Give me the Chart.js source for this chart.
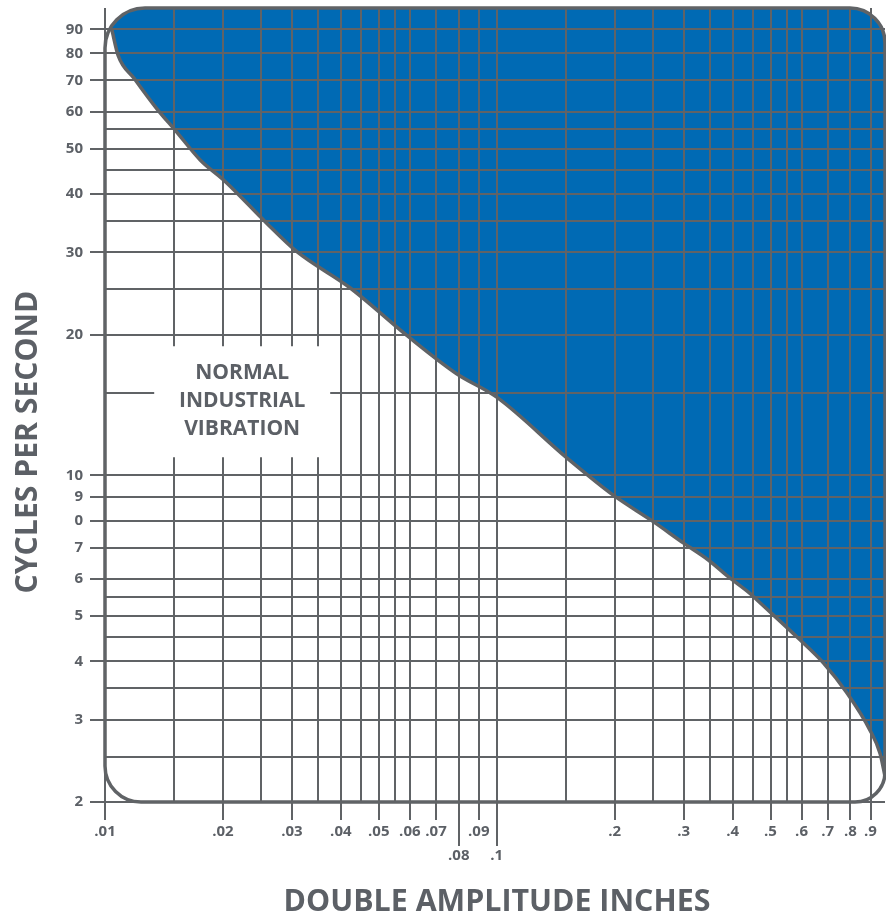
<!DOCTYPE html>
<html>
<head>
<meta charset="utf-8">
<script src="https://cdn.jsdelivr.net/npm/chart.js@4/dist/chart.umd.min.js"></script>
<style>
  html, body { margin: 0; padding: 0; background: #fff; }
  canvas { display: block; }
</style>
</head>
<body>
<canvas id="chart" width="886" height="915"></canvas>
<script>
// grid lines and their labels (blank = line without label)
const xTicks = [0.01, 0.015, 0.02, 0.025, 0.03, 0.035, 0.04, 0.045, 0.05, 0.055, 0.06, 0.07, 0.08, 0.09,
  0.1, 0.15, 0.2, 0.25, 0.3, 0.35, 0.4, 0.45, 0.5, 0.55, 0.6, 0.7, 0.8, 0.9];
const xTickLabels = ['.01', '', '.02', '', '.03', '', '.04', '', '.05', '', '.06', '.07', ['', '.08'], '.09',
  ['', '.1'], '', '.2', '', '.3', '', '.4', '', '.5', '', '.6', '.7', '.8', '.9'];
const yTicks = [2, 2.5, 3, 3.5, 4, 4.5, 5, 5.5, 6, 7, 8, 9, 10, 15, 20, 25, 30, 35, 40, 45, 50, 55, 60, 70, 80, 90];
const yTickLabels = ['2', '', '3', '', '4', '', '5', '', '6', '7', '0', '9', '10', '', '20', '', '30', '', '40', '',
  '50', '', '60', '70', '80', '90'];
const longTicks = [0.08, 0.1];

// limit curve (double amplitude inches vs cycles per second)
const limitAmplitude = [0.0104, 0.0108, 0.0119, 0.0136, 0.0151, 0.0175, 0.0203, 0.0259, 0.0309, 0.0422, 0.0595,
  0.079, 0.1, 0.151, 0.198, 0.251, 0.30, 0.347, 0.39, 0.443, 0.462, 0.589, 0.682, 0.784, 0.897, 0.952, 0.98];
const limitCycles = [90.2, 79.2, 70.5, 60.7, 54.8, 47.3, 42.5, 34.6, 30.1, 25.2, 19.8, 16.5, 14.7, 10.9,
  9.08, 7.96, 7.16, 6.59, 6.07, 5.59, 5.41, 4.48, 3.97, 3.42, 2.85, 2.54, 2.27];

const zoneLabel = ['NORMAL', 'INDUSTRIAL', 'VIBRATION'];
const zoneLabelAt = [0.0224, 14.4];

const GRAY = '#606366';
const TEXT = '#5c6066';
const BLUE = '#006ab4';
const FONT = '"Open Sans", "DejaVu Sans", sans-serif';
const frameRadii = [40, 35, 30, 36]; // tl, tr, br, bl

function framePath(ctx, a) {
  const [tl, tr, br, bl] = frameRadii;
  ctx.beginPath();
  ctx.moveTo(a.left + tl, a.top);
  ctx.arcTo(a.right, a.top, a.right, a.bottom, tr);
  ctx.arcTo(a.right, a.bottom, a.left, a.bottom, br);
  ctx.arcTo(a.left, a.bottom, a.left, a.top, bl);
  ctx.arcTo(a.left, a.top, a.right, a.top, tl);
  ctx.closePath();
}

// pick a font size so the text fills a given width
function fitText(ctx, text, width) {
  ctx.font = 'bold 100px ' + FONT;
  const size = 100 * width / ctx.measureText(text).width;
  ctx.font = 'bold ' + size.toFixed(2) + 'px ' + FONT;
}

const framePlugin = {
  id: 'frame',
  beforeDatasetsDraw(chart) {
    chart.ctx.save();
    framePath(chart.ctx, chart.chartArea);
    chart.ctx.clip();
  },
  afterDatasetsDraw(chart) {
    chart.ctx.restore();
  },
  afterDraw(chart) {
    const { ctx, chartArea: a, scales: { x, y } } = chart;
    ctx.save();

    // longer ticks under .08 and .1
    ctx.strokeStyle = GRAY;
    ctx.lineWidth = 2;
    longTicks.forEach(v => {
      const px = Math.round(x.getPixelForValue(v));
      ctx.beginPath();
      ctx.moveTo(px, a.bottom + 16);
      ctx.lineTo(px, a.bottom + 44);
      ctx.stroke();
    });

    // zone label on a white patch
    const cx = x.getPixelForValue(zoneLabelAt[0]);
    const cy = y.getPixelForValue(zoneLabelAt[1]);
    ctx.fillStyle = '#fff';
    ctx.beginPath();
    ctx.roundRect(cx - 88, cy - 55, 176, 111, 12);
    ctx.fill();
    ctx.fillStyle = TEXT;
    ctx.textAlign = 'center';
    ctx.textBaseline = 'alphabetic';
    ctx.font = 'bold 21px ' + FONT;
    zoneLabel.forEach((t, i) => ctx.fillText(t, cx, cy - 22 + i * 28));

    // rounded frame
    ctx.strokeStyle = GRAY;
    ctx.lineWidth = 3.5;
    framePath(ctx, a);
    ctx.stroke();

    // axis titles
    ctx.fillStyle = TEXT;
    fitText(ctx, 'DOUBLE AMPLITUDE INCHES', 427);
    ctx.fillText('DOUBLE AMPLITUDE INCHES', 497, 911);

    ctx.translate(37, 442);
    ctx.rotate(-Math.PI / 2);
    fitText(ctx, 'CYCLES PER SECOND', 303);
    ctx.fillText('CYCLES PER SECOND', 0, 0);
    ctx.restore();
  }
};

new Chart(document.getElementById('chart'), {
  type: 'line',
  data: {
    datasets: [{
      data: limitAmplitude.map((v, i) => ({ x: v, y: limitCycles[i] })),
      borderColor: GRAY,
      borderWidth: 3.5,
      backgroundColor: BLUE,
      fill: 'end',
      pointRadius: 0,
      cubicInterpolationMode: 'monotone'
    }]
  },
  options: {
    responsive: false,
    animation: false,
    layout: { padding: { top: 8, right: 1, left: 0, bottom: 0 } },
    plugins: { legend: { display: false }, tooltip: { enabled: false } },
    scales: {
      x: {
        type: 'logarithmic',
        min: 0.01,
        max: 0.98,
        bounds: 'data',
        afterBuildTicks: s => { s.ticks = xTicks.map(v => ({ value: v })); },
        afterFit: s => { s.height = 113; s.paddingLeft = 0; s.paddingRight = 0; },
        border: { display: false },
        grid: {
          z: 1,
          color: GRAY,
          lineWidth: 2,
          tickLength: 18,
          tickWidth: 2,
          tickColor: c => xTickLabels[c.index] ? GRAY : 'rgba(0,0,0,0)'
        },
        ticks: {
          autoSkip: false,
          maxRotation: 0,
          padding: 0,
          color: TEXT,
          font: { family: FONT, weight: 'bold', size: 15, lineHeight: '24px' },
          callback: (v, i) => xTickLabels[i]
        }
      },
      y: {
        type: 'logarithmic',
        min: 2,
        max: 100,
        bounds: 'data',
        afterBuildTicks: s => { s.ticks = yTicks.map(v => ({ value: v })); },
        afterFit: s => { s.width = 105; s.paddingTop = 0; s.paddingBottom = 0; },
        border: { display: false },
        grid: {
          z: 1,
          color: GRAY,
          lineWidth: 2,
          tickLength: 15,
          tickWidth: 2,
          tickColor: c => yTickLabels[c.index] ? GRAY : 'rgba(0,0,0,0)'
        },
        ticks: {
          autoSkip: false,
          padding: 7,
          color: TEXT,
          font: { family: FONT, weight: 'bold', size: 15 },
          callback: (v, i) => yTickLabels[i]
        }
      }
    }
  },
  plugins: [framePlugin]
});
</script>
</body>
</html>
